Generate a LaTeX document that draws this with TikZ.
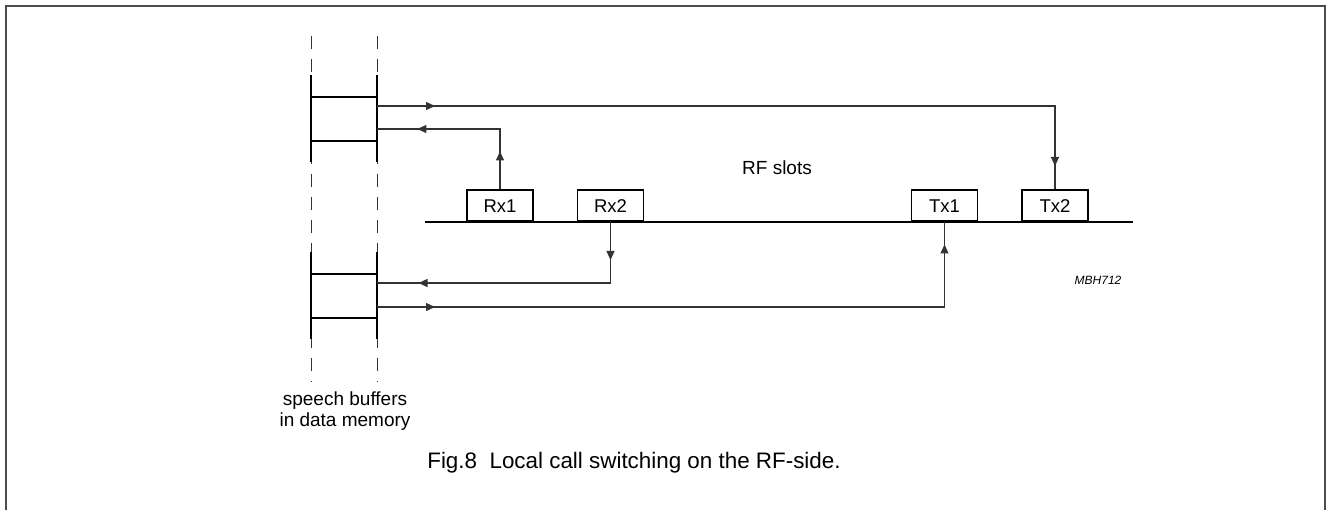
\documentclass[tikz,border=0pt]{standalone}
\usepackage{fontspec}
\setmainfont{Liberation Sans}
\usetikzlibrary{positioning}
\usetikzlibrary{arrows.meta,decorations.markings}

\begin{document}
\begin{tikzpicture} [x=1pt, y=-1pt, line join=miter,
            font=\fontsize{18.5}{21}\selectfont]

            \tikzstyle{slot} = [rectangle, draw=black, line width=1.6pt, anchor=south,
                                minimum width=66pt, minimum height=31pt, inner sep=0pt]
            \tikzstyle{wall} = [line width=2.2pt]
            \tikzstyle{cell} = [line width=1.8pt]
            \tikzstyle{guide} = [line width=1pt, dash pattern=on 13pt off 10pt, black!80]
            \tikzstyle{wire} = [line width=1.2pt, black!80, postaction={decorate}]
            \tikzset{tips/.style 2 args={decoration={markings,
                mark=at position #1 with {\arrow{Triangle[length=9pt,width=8pt]}},
                mark=at position #2 with {\arrow{Triangle[length=9pt,width=8pt]}}}}}

            \useasboundingbox (0,0) rectangle (1327,510);
            \draw[line width=2pt, black!70] (6,520) -- (6,6) -- (1325,6) -- (1325,520);

            % speech buffers
            \draw[guide] (311,36) -- (311,382);
            \draw[guide] (377,36) -- (377,382);
            \draw[wall] (311,75) -- (311,162) (377,75) -- (377,162);
            \draw[cell] (311,97) -- (377,97) (311,141) -- (377,141);
            \draw[wall] (311,252) -- (311,339) (377,252) -- (377,339);
            \draw[cell] (311,274) -- (377,274) (311,318) -- (377,318);

            \coordinate (up_out) at (377,106);
            \coordinate (up_in) at (377,129);
            \coordinate (low_in) at (377,283);
            \coordinate (low_out) at (377,307);

            % RF slots
            \draw[line width=1.6pt] (425,222) -- (1133,222);
            \node[slot](rx1) at(500,222) {Rx1};
            \node[slot](rx2) at(610.5,222) {Rx2};
            \node[slot](tx1) at(944.5,222) {Tx1};
            \node[slot](tx2) at(1055,222) {Tx2};
            \node[font=\fontsize{19}{22}\selectfont](rf) at(777,168) {RF slots};

            \draw[wire, tips={58pt}{738pt}] (up_out) -| (tx2.north);
            \draw[wire, tips={38pt}{143pt}] (rx1.north) |- (up_in);
            \draw[wire, tips={38pt}{253pt}] (rx2.south) |- (low_in);
            \draw[wire, tips={58pt}{630pt}] (low_out) -| (tx1.south);

            \node[font=\itshape\fontsize{12}{14}\selectfont](code) at(1098,280) {MBH712};
            \node[align=center, font=\fontsize{19}{21}\selectfont](buffers) at(345,411)
                {speech buffers\\in data memory};
            \node[font=\fontsize{22.4}{26}\selectfont](caption) at(634,463)
                {Fig.8\ \ Local call switching on the RF-side.};
\end{tikzpicture}
\end{document}
